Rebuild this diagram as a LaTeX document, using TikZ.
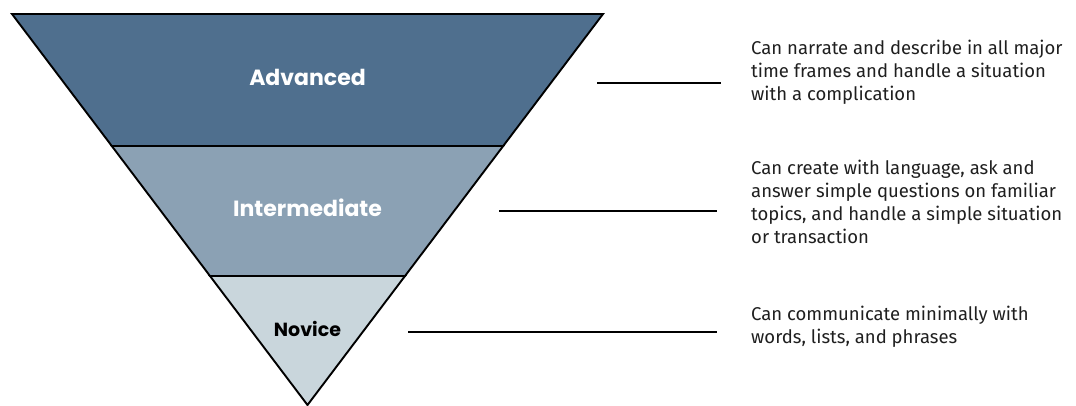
\documentclass[tikz,border=0pt]{standalone}
\usepackage{fontspec}
\setmainfont{Fira Sans}
\newfontfamily\bandfont{Poppins}
\usepackage{tikz}

\definecolor{advblue}{RGB}{79,111,142}
\definecolor{intblue}{RGB}{139,161,180}
\definecolor{novblue}{RGB}{201,214,220}

\begin{document}
\begin{tikzpicture}[x=1pt,y=-1pt,
  band/.style={draw=black, line width=1.9pt, line join=miter},
  bandlabel/.style={font=\bandfont\bfseries\fontsize{22}{26}\selectfont, text=white},
  desc/.style={anchor=west, align=left, inner sep=0pt, text=black!88,
    font=\fontsize{18.5}{23}\selectfont},
  rule/.style={draw=black, line width=1.3pt}]
\useasboundingbox (0,0) rectangle (1076,405);

% the three bands of the funnel
\draw[band, fill=advblue] (12,14) -- (603,14) -- (503.2,146) -- (111.8,146) -- cycle;
\draw[band, fill=intblue] (111.8,146) -- (503.2,146) -- (405,276) -- (210,276) -- cycle;
\draw[band, fill=novblue] (210,276) -- (405,276) -- (307.5,405) -- cycle;

\node[bandlabel] (adv) at (307.5,77) {Advanced};
\node[bandlabel] (int) at (307.5,208) {Intermediate};
\node[bandlabel, text=black, font=\bandfont\bfseries\fontsize{19}{22}\selectfont] (nov) at (307.5,329) {Novice};

% lines and descriptions
\coordinate (advL) at (597,83);
\coordinate (advR) at (721,83);
\coordinate (intL) at (499,211);
\coordinate (intR) at (717,211);
\coordinate (novL) at (408,332);
\coordinate (novR) at (717,332);
\draw[rule] (advL) -- (advR);
\draw[rule] (intL) -- (intR);
\draw[rule] (novL) -- (novR);

\node[desc] (advtext) at (751,72) {Can narrate and describe in all major\\time frames and handle a situation\\with a complication};
\node[desc] (inttext) at (751,202) {Can create with language, ask and\\answer simple questions on familiar\\topics, and handle a simple situation\\or transaction};
\node[desc] (novtext) at (751,327) {Can communicate minimally with\\words, lists, and phrases};
\end{tikzpicture}
\end{document}
